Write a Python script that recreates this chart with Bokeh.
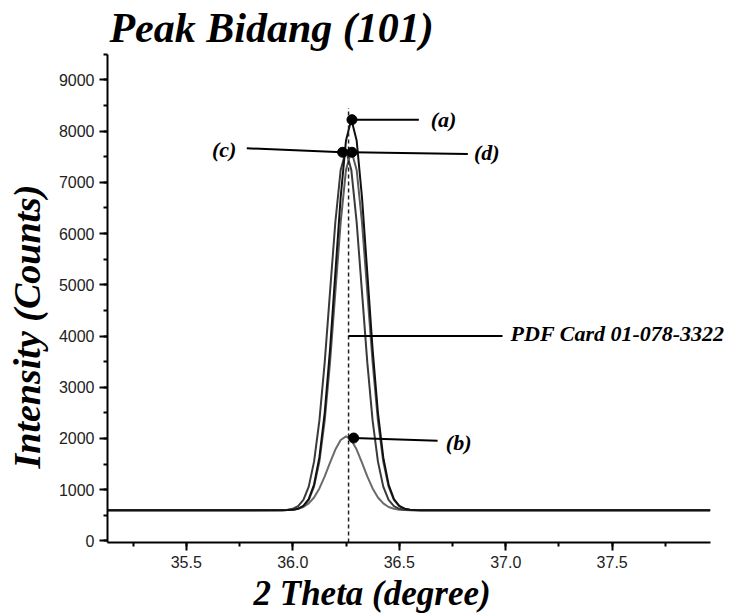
from bokeh.plotting import figure
from bokeh.models import (Label, SingleIntervalTicker, PrintfTickFormatter, Range1d, Title)
from bokeh.embed import file_html
from bokeh.resources import INLINE

# ---- data ----
theta = [35.13, 35.95, 35.975, 36.0, 36.025, 36.05, 36.075, 36.1, 36.125, 36.15,
         36.175, 36.2, 36.225, 36.25, 36.275, 36.3, 36.325, 36.35, 36.375, 36.4,
         36.425, 36.45, 36.475, 36.5, 36.525, 36.55, 36.575, 36.6, 37.96]
intensity_a = [600, 600, 602, 609, 630, 685, 818, 1101, 1630, 2500,
               3736, 5231, 6712, 7818, 8230, 7818, 6712, 5231, 3736, 2500,
               1630, 1101, 818, 685, 630, 609, 602, 600, 600]
intensity_b = [600, 601, 604, 611, 628, 663, 732, 848, 1025, 1260,
               1527, 1785, 1971, 2040, 1971, 1785, 1527, 1260, 1025, 848,
               732, 663, 628, 611, 604, 601, 600, 600, 600]
intensity_c = [600, 602, 608, 627, 678, 801, 1061, 1548, 2348, 3485,
               4861, 6223, 7241, 7620, 7241, 6223, 4861, 3485, 2348, 1548,
               1061, 801, 678, 627, 608, 602, 600, 600, 600]
intensity_d = [600, 600, 602, 608, 627, 678, 801, 1061, 1548, 2348,
               3485, 4861, 6223, 7241, 7620, 7241, 6223, 4861, 3485, 2348,
               1548, 1061, 801, 678, 627, 608, 602, 600, 600]

pdf_card_theta = 36.262
pdf_card_top = 8450

marker_labels = ["(a)", "(b)", "(c)", "(d)"]
marker_x = [36.278, 36.286, 36.234, 36.278]
marker_y = [8222, 2009, 7586, 7586]
pointer_end_x = [36.592, 36.680, 35.784, 36.822]
pointer_end_y = [8222, 1956, 7664, 7554]
label_x = [36.648, 36.719, 35.735, 36.851]
label_y = [8222, 1923, 7638, 7586]
label_align = ["left", "left", "right", "left"]

pdf_line_x = [36.262, 36.985]
pdf_line_y = [4000, 4000]
pdf_text = "PDF Card 01-078-3322"
pdf_text_x = 37.023
pdf_text_y = 4045

x_axis_start, x_axis_end = 35.13, 37.962
y_axis_start, y_axis_end = -30, 9500
x_ticks_interval = 0.5
y_ticks_interval = 1000

title_text = "Peak Bidang (101)"
xlabel_text = "2 Theta (degree)"
ylabel_text = "Intensity (Counts)"

SERIF = "Liberation Serif"

# the frame also covers the title row (top) and the right-hand note; axes are bounded
p = figure(width=755, height=614, output_backend="svg", toolbar_location=None,
           x_range=Range1d(x_axis_start, 38.173), y_range=Range1d(y_axis_start, 10548),
           min_border_left=106, min_border_right=0, min_border_top=0,
           min_border_bottom=72, title=None)
p.outline_line_color = None
p.xgrid.visible = False
p.ygrid.visible = False
p.background_fill_color = "white"
p.border_fill_color = "white"

p.add_layout(Title(text=xlabel_text, text_font=SERIF, text_font_style="bold italic",
                   text_font_size="35px", text_color="black", align="left",
                   offset=146, standoff=2), "below")
p.add_layout(Title(text=ylabel_text, text_font=SERIF, text_font_style="bold italic",
                   text_font_size="38px", text_color="black", align="left",
                   offset=74, standoff=11, vertical_align="top"), "left")

p.add_layout(Label(x=35.139, y=10020, text=title_text, text_font=SERIF,
                   text_font_style="bold italic", text_font_size="42px",
                   text_align="left", text_baseline="alphabetic", text_color="black"))

# curves
p.line(theta, intensity_b, color="#6a6a6a", line_width=2)
p.line(theta, intensity_c, color="#3a3a3a", line_width=2)
p.line(theta, intensity_d, color="#5a5a5a", line_width=2)
p.line(theta, intensity_a, color="#111111", line_width=2)

# reference line
p.line([pdf_card_theta, pdf_card_theta], [y_axis_start, pdf_card_top], color="#222222",
       line_width=1.5, line_dash="4 3")
p.line(pdf_line_x, pdf_line_y, color="black", line_width=2)

# pointers
for mx, my, ex, ey in zip(marker_x, marker_y, pointer_end_x, pointer_end_y):
    p.line([mx, ex], [my, ey], color="black", line_width=2)
p.scatter(marker_x, marker_y, size=10, color="black")

for t, lx, ly, al in zip(marker_labels, label_x, label_y, label_align):
    p.add_layout(Label(x=lx, y=ly, text=t, text_font=SERIF, text_font_style="bold italic",
                       text_font_size="22px", text_align=al, text_baseline="middle",
                       text_color="black"))
p.add_layout(Label(x=pdf_text_x, y=pdf_text_y, text=pdf_text, text_font=SERIF,
                   text_font_style="bold italic", text_font_size="22px",
                   text_align="left", text_baseline="middle", text_color="black"))

# axes
for ax in (p.xaxis[0], p.yaxis[0]):
    ax.axis_line_width = 2
    ax.axis_line_color = "black"
    ax.major_tick_line_width = 2
    ax.minor_tick_line_width = 2
    ax.major_tick_line_color = "black"
    ax.minor_tick_line_color = "black"
    ax.major_tick_in = 0
    ax.major_tick_out = 8
    ax.minor_tick_in = 0
    ax.minor_tick_out = 4
    ax.major_label_text_font = "Liberation Sans"
    ax.major_label_text_font_size = "16px"
    ax.major_label_text_color = "#222222"
    ax.major_label_standoff = 5

p.xaxis.bounds = (x_axis_start, x_axis_end)
p.yaxis.bounds = (y_axis_start, y_axis_end)
p.xaxis.ticker = SingleIntervalTicker(interval=x_ticks_interval, num_minor_ticks=2)
p.yaxis.ticker = SingleIntervalTicker(interval=y_ticks_interval, num_minor_ticks=2)
p.xaxis.formatter = PrintfTickFormatter(format="%.1f")
p.yaxis.formatter = PrintfTickFormatter(format="%d")

open("out.html", "w").write(file_html(p, INLINE))
